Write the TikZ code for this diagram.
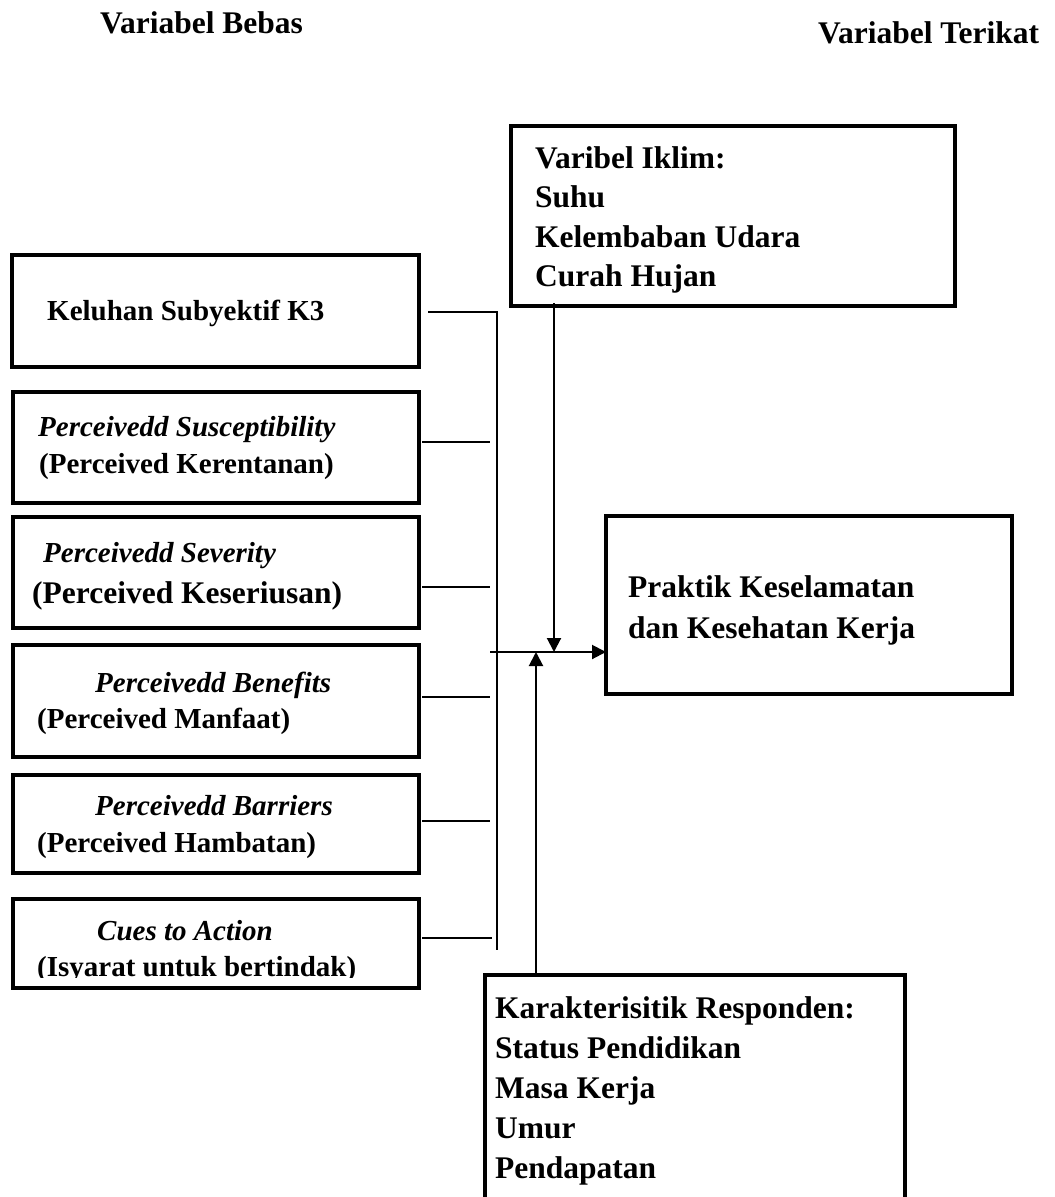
\documentclass[tikz,border=0pt]{standalone}
\usepackage{fontspec}
\setmainfont{Liberation Serif}
\usetikzlibrary{arrows.meta}
\begin{document}
\begin{tikzpicture}[x=1pt,y=-1pt,
  frame/.style={draw, line width=4pt, rectangle, inner sep=0pt, outer sep=0pt},
  wire/.style={draw, line width=2pt},
  tip/.style={-{Triangle[length=14pt,width=14pt]}},
  txt/.style={anchor=base west, inner sep=0pt, font=\fontsize{29}{34}\selectfont\bfseries},
  itxt/.style={txt, font=\fontsize{29}{34}\selectfont\bfseries\itshape},
  btxt/.style={anchor=base west, inner sep=0pt, font=\fontsize{31.5}{38}\selectfont\bfseries}]

\clip (0,0) rectangle (1055,1197);
\fill[white] (0,0) rectangle (1055,1197);

% column headings
\node[btxt] (hbebas) at (100,33) {Variabel Bebas};
\node[btxt] (hterikat) at (818,43) {Variabel Terikat};

% independent variables
\node[frame, minimum width=407pt, minimum height=112pt] (b1) at (215.5,311) {};
\node[frame, minimum width=406pt, minimum height=111pt] (b2) at (216,447.5) {};
\node[frame, minimum width=406pt, minimum height=111pt] (b3) at (216,572.5) {};
\node[frame, minimum width=406pt, minimum height=112pt] (b4) at (216,701) {};
\node[frame, minimum width=406pt, minimum height=98pt]  (b5) at (216,824) {};
\node[frame, minimum width=406pt, minimum height=89pt]  (b6) at (216,943.5) {};

\node[txt]  (t1)  at (47,320) {Keluhan Subyektif K3};
\node[itxt] (t2a) at (38,436) {Perceivedd Susceptibility};
\node[txt]  (t2b) at (39,473) {(Perceived Kerentanan)};
\node[itxt] (t3a) at (43,562) {Perceivedd Severity};
\node[btxt] (t3b) at (32,603) {(Perceived Keseriusan)};
\node[itxt] (t4a) at (95,692) {Perceivedd Benefits};
\node[txt]  (t4b) at (37,728) {(Perceived Manfaat)};
\node[itxt] (t5a) at (95,815) {Perceivedd Barriers};
\node[txt]  (t5b) at (37,852) {(Perceived Hambatan)};
\node[itxt] (t6a) at (97,940) {Cues to Action};
\begin{scope}
  \clip (16,945) rectangle (416,977);
  \node[txt] (t6b) at (37,976) {(Isyarat untuk bertindak)};
\end{scope}

% moderating variables: climate
\node[frame, minimum width=444pt, minimum height=180pt] (iklim) at (733,216) {};
\node[btxt] (k1) at (535,168) {Varibel Iklim:};
\node[btxt] (k2) at (535,207) {Suhu};
\node[btxt] (k3) at (535,247) {Kelembaban Udara};
\node[btxt] (k4) at (535,286) {Curah Hujan};

% dependent variable
\node[frame, minimum width=406pt, minimum height=178pt] (prak) at (809,605) {};
\node[btxt] (p1) at (628,597) {Praktik Keselamatan};
\node[btxt] (p2) at (628,638) {dan Kesehatan Kerja};

% respondent characteristics
\node[frame, minimum width=420pt, minimum height=240pt] (resp) at (695,1095) {};
\node[btxt] (r1) at (495,1018) {Karakterisitik Responden:};
\node[btxt] (r2) at (495,1058) {Status Pendidikan};
\node[btxt] (r3) at (495,1098) {Masa Kerja};
\node[btxt] (r4) at (495,1138) {Umur};
\node[btxt] (r5) at (495,1178) {Pendapatan};

% collecting bus
\coordinate (busTop) at (497,312);
\coordinate (busBot) at (497,950);
\coordinate (e2) at (490,442);
\coordinate (e3) at (490,587);
\coordinate (e4) at (490,697);
\coordinate (e5) at (490,821);
\coordinate (e6) at (492,938);
\coordinate (join) at (490,652);
\coordinate (dn) at (554,652);
\coordinate (up) at (536,652);

\draw[wire] (b1.east |- busTop) ++(9,0) -- (busTop) -- (busBot);
\draw[wire] (b2.east |- e2) ++(3,0) -- (e2);
\draw[wire] (b3.east |- e3) ++(3,0) -- (e3);
\draw[wire] (b4.east |- e4) ++(3,0) -- (e4);
\draw[wire] (b5.east |- e5) ++(3,0) -- (e5);
\draw[wire] (b6.east |- e6) ++(3,0) -- (e6);

% arrows into the outcome
\draw[wire, tip] (join) -- (join -| prak.west);
\draw[wire, tip] (iklim.south -| dn) ++(0,-3) -- (dn);
\draw[wire, tip] (resp.north -| up) -- (up);

\end{tikzpicture}
\end{document}
